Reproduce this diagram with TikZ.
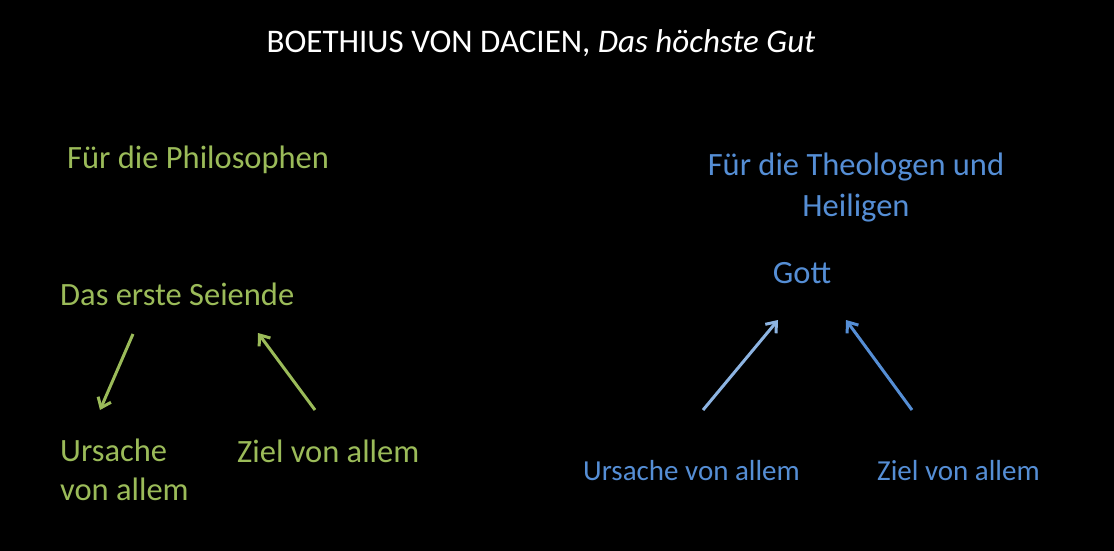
\documentclass[tikz,border=0pt]{standalone}
\usepackage{fontspec}
\setmainfont{Carlito}
\usetikzlibrary{arrows.meta,positioning}

\definecolor{philgreen}{HTML}{9BBB59}
\definecolor{theoblue}{HTML}{558ED5}
\definecolor{lightblue}{HTML}{8DB4E2}

\begin{document}
\begin{tikzpicture}[x=1pt, y=-1pt,
    txt/.style={inner sep=0pt, font=\fontsize{32.5}{40}\selectfont, anchor=west},
    phil/.style={txt, text=philgreen},
    theo/.style={txt, text=theoblue},
    arr/.style={-{Straight Barb[length=9pt, width=14pt, line width=3pt]}, line width=3pt}
]
\fill[black] (0,0) rectangle (1114,551);

\node[txt, text=white, anchor=center, font=\fontsize{33}{40}\selectfont] (T) at (541,43) {BOETHIUS VON DACIEN, \textit{Das höchste Gut}};

% Philosophen
\node[phil] (P) at (67,160) {Für die Philosophen};
\node[phil] (E) at (60,294) {Das erste Seiende};
\node[phil, align=left, font=\fontsize{32.5}{39}\selectfont] (U) at (60,470) {Ursache\\von allem};
\node[phil] (Z) at (237,451) {Ziel von allem};

\coordinate (e1) at (133,334);
\coordinate (u1) at (100,410);
\coordinate (z1) at (315,410);
\coordinate (e2) at (258,333);

\draw[arr, philgreen] (e1) -- (u1);
\draw[arr, philgreen] (z1) -- (e2);

% Theologen
\node[theo, align=center, anchor=center, font=\fontsize{32.5}{41}\selectfont] (H) at (856,188) {Für die Theologen und\\Heiligen};
\node[theo, anchor=center] (G) at (802,273) {Gott};
\node[theo, font=\fontsize{29}{35}\selectfont] (UA) at (583,471) {Ursache von allem};
\node[theo, font=\fontsize{29}{35}\selectfont] (ZA) at (877,471) {Ziel von allem};

\coordinate (u2) at (703,410);
\coordinate (g1) at (778,320);
\coordinate (z2) at (912,410);
\coordinate (g2) at (846,320);

\draw[arr, lightblue] (u2) -- (g1);
\draw[arr, theoblue] (z2) -- (g2);
\end{tikzpicture}
\end{document}
